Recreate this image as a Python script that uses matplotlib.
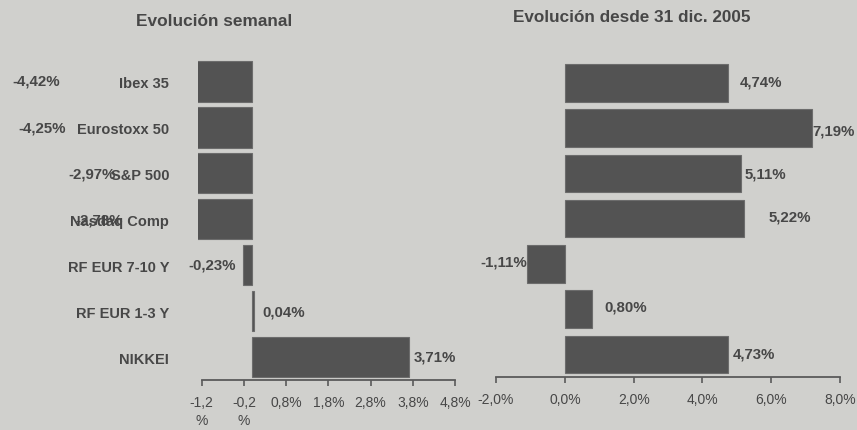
import matplotlib
matplotlib.use("Agg")
import matplotlib.pyplot as plt
from matplotlib.ticker import FixedLocator, FixedFormatter

# data
categories = ["Ibex 35", "Eurostoxx 50", "S&P 500", "Nasdaq Comp",
              "RF EUR 7-10 Y", "RF EUR 1-3 Y", "NIKKEI"]
weekly = [-4.42, -4.25, -2.97, -2.78, -0.23, 0.04, 3.71]
since_2005 = [4.74, 7.19, 5.11, 5.22, -1.11, 0.80, 4.73]

weekly_ticks = [-1.2, -0.2, 0.8, 1.8, 2.8, 3.8, 4.8]
weekly_ticklabels = ["-1,2\n%", "-0,2\n%", "0,8%", "1,8%", "2,8%", "3,8%", "4,8%"]
ytd_ticks = [-2.0, 0.0, 2.0, 4.0, 6.0, 8.0]
ytd_ticklabels = ["-2,0%", "0,0%", "2,0%", "4,0%", "6,0%", "8,0%"]

titles = ["Evolución semanal", "Evolución desde 31 dic. 2005"]

# style
BG = "#d0d0cd"
BAR = "#535353"
BAR_EDGE = "#6c6c6c"
TXT = "#474747"
FONT = ["Liberation Sans", "DejaVu Sans"]
plt.rcParams["font.family"] = FONT

# per-label nudges (pixels), mimicking the hand-placed labels of the original
weekly_dx = [-6, -7, -11, -12, -7, 8, 5]
weekly_dy = [-1, 0, 0, 0, -1, 0, -1]
ytd_dx = [12, 0, 4, 24, 0, 12, 5]
ytd_dy = [-1, 2, 0, -2, -2, -3, -1]

fig = plt.figure(figsize=(8.57, 4.31), dpi=100)
fig.patch.set_facecolor(BG)

ax1 = fig.add_axes([0.2314, 0.116, 0.2996, 0.747])
ax2 = fig.add_axes([0.5788, 0.123, 0.4014, 0.735])


def pct(v):
    return f"{v:.2f}%".replace(".", ",")


def style_axis(ax, ticks, ticklabels, lo, hi):
    ax.set_facecolor("none")
    for s in ("top", "right", "left"):
        ax.spines[s].set_visible(False)
    ax.spines["bottom"].set_color("#5a5a5a")
    ax.spines["bottom"].set_linewidth(1.3)
    ax.spines["bottom"].set_bounds(lo, hi)
    ax.xaxis.set_major_locator(FixedLocator(ticks))
    ax.xaxis.set_major_formatter(FixedFormatter(ticklabels))
    ax.tick_params(axis="x", direction="out", length=4, width=1.2,
                   color="#5a5a5a", pad=6.5, labelsize=10, labelcolor=TXT)
    for lab in ax.get_xticklabels():
        lab.set_linespacing(1.4)


def draw_labels(ax, values, dxs, dys):
    for i, (v, dx, dy) in enumerate(zip(values, dxs, dys)):
        ha = "left" if v >= 0 else "right"
        ax.annotate(pct(v), xy=(v, i), xytext=(dx * 0.72, -dy * 0.72),
                    textcoords="offset points", ha=ha, va="center",
                    fontsize=10.8, fontweight="bold", color=TXT,
                    annotation_clip=False)


y = range(len(categories))

# left: weekly change
ax1.barh(y, weekly, height=0.89, color=BAR, edgecolor=BAR_EDGE, linewidth=0.8)
ax1.set_xlim(-1.28, 4.8)
ax1.set_ylim(6.5, -0.5)
style_axis(ax1, weekly_ticks, weekly_ticklabels, -1.2, 4.8)
ax1.set_yticks(list(y))
ax1.set_yticklabels(categories)
ax1.tick_params(axis="y", length=0, pad=21, labelsize=10.5, labelcolor=TXT)
for lab in ax1.get_yticklabels():
    lab.set_fontweight("bold")
draw_labels(ax1, weekly, weekly_dx, weekly_dy)

# right: change since 31 Dec 2005
ax2.barh(y, since_2005, height=0.83, color=BAR, edgecolor=BAR_EDGE, linewidth=0.8)
ax2.set_xlim(-2.0, 8.0)
ax2.set_ylim(6.5, -0.5)
style_axis(ax2, ytd_ticks, ytd_ticklabels, -2.0, 8.0)
ax2.set_yticks([])
draw_labels(ax2, since_2005, ytd_dx, ytd_dy)

# titles
fig.text(214 / 857, 1 - 22 / 431, titles[0], ha="center", va="center",
         fontsize=12.4, fontweight="bold", color=TXT)
fig.text(632 / 857, 1 - 17 / 431, titles[1], ha="center", va="center",
         fontsize=12.3, fontweight="bold", color=TXT)

fig.savefig("out.png", dpi=100, facecolor=BG)
